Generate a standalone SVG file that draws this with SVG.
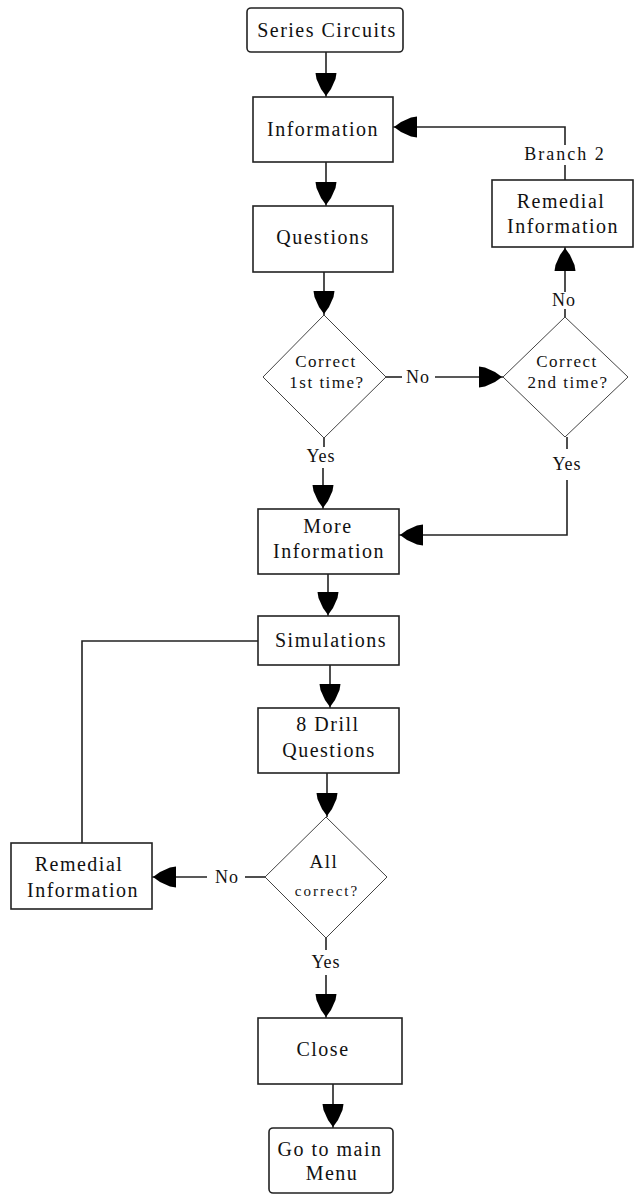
<svg xmlns="http://www.w3.org/2000/svg" width="635" height="1194" viewBox="0 0 635 1194">
<defs>
<marker id="ah" markerUnits="userSpaceOnUse" markerWidth="30" markerHeight="26" viewBox="-28 -13 30 26" refX="0" refY="0" orient="auto">
<path d="M-1,0 L-8,-5 L-18,-9.5 L-24,-10.5 L-24,10.5 L-18,9.5 L-8,5 Z" fill="#000"/>
</marker>
</defs>
<style>
.box{fill:#fff;stroke:#222;stroke-width:1.6}
.dia{fill:#fff;stroke:#444;stroke-width:1}
.t{font-family:"Liberation Serif","Times New Roman",serif;font-size:20px;letter-spacing:1.5px;fill:#111;text-anchor:middle}
.s{font-family:"Liberation Serif","Times New Roman",serif;font-size:17px;letter-spacing:1.5px;fill:#111;text-anchor:middle}
.l{font-family:"Liberation Serif","Times New Roman",serif;font-size:18px;letter-spacing:1px;fill:#111;text-anchor:middle}
.c{fill:none;stroke:#222;stroke-width:1.6}
.a{marker-end:url(#ah)}
</style>
<rect width="635" height="1194" fill="#fff"/>
<g id="connectors">
<line class="c a" x1="326" y1="52" x2="326" y2="97"/>
<line class="c a" x1="326" y1="162" x2="326" y2="206"/>
<line class="c a" x1="324" y1="272" x2="324" y2="315"/>
<line class="c" x1="386" y1="377" x2="402" y2="377"/>
<line class="c a" x1="435" y1="377" x2="503" y2="377"/>
<line class="c" x1="565" y1="317" x2="565" y2="309"/>
<line class="c a" x1="565" y1="292" x2="565" y2="247"/>
<line class="c" x1="565" y1="180" x2="565" y2="165"/>
<polyline class="c a" points="565,145 565,127 393,127"/>
<line class="c" x1="324" y1="438" x2="324" y2="447"/>
<line class="c a" x1="323" y1="468" x2="323" y2="509"/>
<line class="c" x1="567" y1="437" x2="567" y2="449"/>
<polyline class="c a" points="567,480 567,535 399,535"/>
<line class="c a" x1="328" y1="574" x2="328" y2="616"/>
<polyline class="c" points="258,641 82,641 82,843"/>
<line class="c a" x1="330" y1="665" x2="330" y2="708"/>
<line class="c a" x1="327" y1="773" x2="327" y2="817"/>
<line class="c" x1="265" y1="877" x2="245" y2="877"/>
<line class="c a" x1="207" y1="877" x2="152" y2="877"/>
<line class="c" x1="326" y1="938" x2="326" y2="950"/>
<line class="c a" x1="326" y1="975" x2="326" y2="1018"/>
<line class="c a" x1="333" y1="1084" x2="333" y2="1128"/>
<text class="l" x="418" y="383">No</text>
<text class="l" x="564" y="306">No</text>
<text class="l" x="565" y="160" style="letter-spacing:2px">Branch 2</text>
<text class="l" x="321" y="462">Yes</text>
<text class="l" x="567" y="470">Yes</text>
<text class="l" x="227" y="883">No</text>
<text class="l" x="326" y="968">Yes</text>
</g>
<g id="series-circuits">
<rect class="box" x="247" y="8" width="156" height="44" rx="4"/>
<text class="t" x="327" y="37">Series Circuits</text>
</g>
<g id="information">
<rect class="box" x="253" y="97" width="140" height="65"/>
<text class="t" x="323" y="136">Information</text>
</g>
<g id="questions">
<rect class="box" x="253" y="206" width="140" height="66"/>
<text class="t" x="323" y="244">Questions</text>
</g>
<g id="correct-1st">
<polygon class="dia" points="324,315 386,377 324,438 263,377"/>
<text class="s" x="326" y="367">Correct</text>
<text class="s" x="327" y="388">1st time?</text>
</g>
<g id="correct-2nd">
<polygon class="dia" points="565,317 628,377 565,437 503,377"/>
<text class="s" x="567" y="367">Correct</text>
<text class="s" x="568" y="388">2nd time?</text>
</g>
<g id="remedial-top">
<rect class="box" x="492" y="180" width="141" height="67"/>
<text class="t" x="561" y="208">Remedial</text>
<text class="t" x="563" y="233">Information</text>
</g>
<g id="more-information">
<rect class="box" x="258" y="509" width="141" height="65"/>
<text class="t" x="328" y="533">More</text>
<text class="t" x="329" y="558">Information</text>
</g>
<g id="simulations">
<rect class="box" x="258" y="616" width="141" height="49"/>
<text class="t" x="331" y="647">Simulations</text>
</g>
<g id="drill-questions">
<rect class="box" x="258" y="708" width="141" height="65"/>
<text class="t" x="328" y="731">8 Drill</text>
<text class="t" x="329" y="757">Questions</text>
</g>
<g id="all-correct">
<polygon class="dia" points="326,817 387,877 326,938 265,877"/>
<text class="t" x="324" y="868" style="font-size:19px">All</text>
<text class="s" x="327" y="896" style="font-size:15px;letter-spacing:2px">correct?</text>
</g>
<g id="remedial-bottom">
<rect class="box" x="11" y="843" width="141" height="66"/>
<text class="t" x="79" y="871">Remedial</text>
<text class="t" x="83" y="897">Information</text>
</g>
<g id="close">
<rect class="box" x="258" y="1018" width="144" height="66"/>
<text class="t" x="323" y="1056">Close</text>
</g>
<g id="main-menu">
<rect class="box" x="269" y="1128" width="124" height="65" rx="4"/>
<text class="t" x="330" y="1156">Go to main</text>
<text class="t" x="332" y="1180">Menu</text>
</g>
</svg>
